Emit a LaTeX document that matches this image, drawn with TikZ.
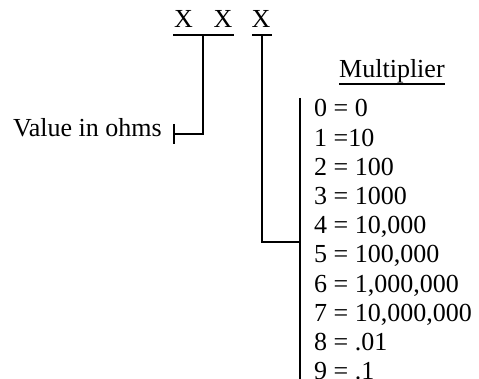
\documentclass[tikz,border=0pt]{standalone}
\usepackage{fontspec}
\setmainfont{Liberation Serif}
\tikzset{
    txt/.style={font=\fontsize{26}{30}\selectfont, inner sep=0pt},
    bar/.style={line width=1.6pt}
}
\begin{document}
\begin{tikzpicture}[x=1pt, y=-1pt]
    \useasboundingbox (0,0) rectangle (479,379);
    \clip (0,0) rectangle (479,379);

    % Draw the three digits and their underlines
    \node[txt, anchor=base] (x1) at (183.5,28) {X};
    \node[txt, anchor=base] (x2) at (223,28) {X};
    \node[txt, anchor=base] (x3) at (261,28) {X};
    \coordinate (u1a) at (173,35);
    \coordinate (u1b) at (234,35);
    \coordinate (u1m) at (203,35);
    \coordinate (u2a) at (252,35);
    \coordinate (u2b) at (272,35);
    \coordinate (u2m) at (262,35);
    \draw[bar] (u1a) -- (u1b);
    \draw[bar] (u2a) -- (u2b);

    % Value bracket
    \node[txt, anchor=base east] (value) at (162,137) {Value in ohms};
    \coordinate (vtick) at (174,134);
    \draw[bar] (u1m) |- (vtick);
    \draw[bar] ([yshift=10pt]vtick) -- ([yshift=-10pt]vtick);

    % Multiplier list
    \node[txt, anchor=base west] (mult) at (339,78) {Multiplier};
    \draw[bar] ([yshift=-0.5pt]mult.south west) -- ([yshift=-0.5pt]mult.south east);
    \coordinate (mtop) at (300,98);
    \coordinate (mbot) at (300,379);
    \draw[bar] (mtop) -- (mbot);
    \coordinate (mjoin) at (300,242);
    \draw[bar] (u2m) |- (mjoin);
    \foreach \row [count=\i from 0] in {0 = 0, 1 =10, 2 = 100, 3 = 1000,
        {4 = 10,000}, {5 = 100,000}, {6 = 1,000,000}, {7 = 10,000,000},
        8 = .01, 9 = .1}
        \node[txt, anchor=base west] (r\i) at (314,117+29.2*\i) {\row};
\end{tikzpicture}
\end{document}
